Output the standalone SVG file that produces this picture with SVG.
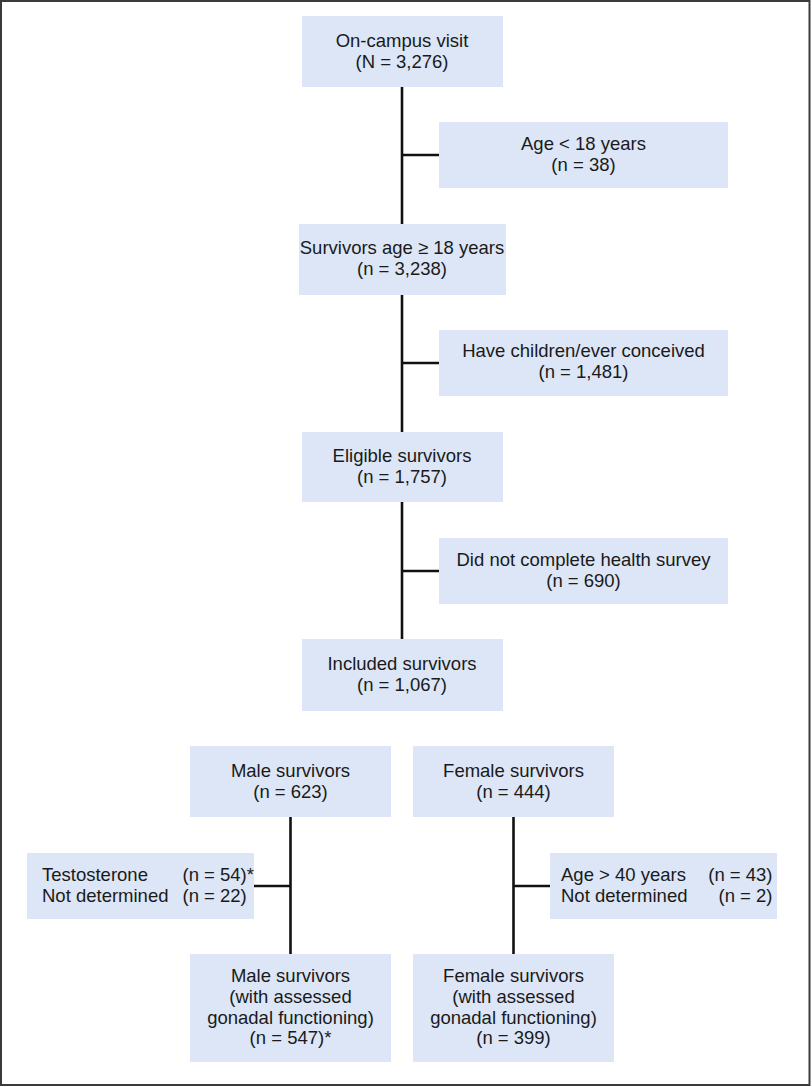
<svg xmlns="http://www.w3.org/2000/svg" width="812" height="1087" viewBox="0 0 812 1087">
<style>
.box{fill:#dce6f6;}
.t{font-family:"Liberation Sans",Arial,sans-serif;font-size:18.5px;fill:#1a1a1a;text-anchor:middle;}
.l{text-anchor:start;}
.r{text-anchor:end;}
.c{stroke:#111;stroke-width:2.6;fill:none;}
</style>
<rect x="1" y="1" width="808.5" height="1084" fill="#fff" stroke="#3a3a3a" stroke-width="2"/>
<g id="connectors">
<line class="c" x1="402" y1="87" x2="402" y2="224"/>
<line class="c" x1="402" y1="155" x2="439" y2="155"/>
<line class="c" x1="402" y1="295" x2="402" y2="432"/>
<line class="c" x1="402" y1="363" x2="439" y2="363"/>
<line class="c" x1="402" y1="502" x2="402" y2="639"/>
<line class="c" x1="402" y1="571" x2="439" y2="571"/>
<line class="c" x1="290.5" y1="817" x2="290.5" y2="954"/>
<line class="c" x1="254" y1="886" x2="290.5" y2="886"/>
<line class="c" x1="513.5" y1="817" x2="513.5" y2="954"/>
<line class="c" x1="513.5" y1="886" x2="550" y2="886"/>
</g>
<g id="n1"><rect class="box" x="302" y="16" width="201" height="71"/>
<text class="t" x="402" y="46.5">On-campus visit</text><text class="t" x="402" y="67.5">(N = 3,276)</text></g>
<g id="n2"><rect class="box" x="439" y="122" width="289" height="66"/>
<text class="t" x="583.5" y="150">Age &lt; 18 years</text><text class="t" x="583.5" y="171">(n = 38)</text></g>
<g id="n3"><rect class="box" x="299" y="224" width="207" height="71"/>
<text class="t" x="402" y="254">Survivors age ≥ 18 years</text><text class="t" x="402" y="275">(n = 3,238)</text></g>
<g id="n4"><rect class="box" x="439" y="330" width="289" height="66"/>
<text class="t" x="583.5" y="357">Have children/ever conceived</text><text class="t" x="583.5" y="378">(n = 1,481)</text></g>
<g id="n5"><rect class="box" x="302" y="432" width="201" height="70"/>
<text class="t" x="402" y="462">Eligible survivors</text><text class="t" x="402" y="483">(n = 1,757)</text></g>
<g id="n6"><rect class="box" x="439" y="538" width="289" height="66"/>
<text class="t" x="583.5" y="566">Did not complete health survey</text><text class="t" x="583.5" y="587">(n = 690)</text></g>
<g id="n7"><rect class="box" x="302" y="639" width="201" height="72"/>
<text class="t" x="402" y="670">Included survivors</text><text class="t" x="402" y="691">(n = 1,067)</text></g>
<g id="n8"><rect class="box" x="190" y="746" width="201" height="71"/>
<text class="t" x="290.5" y="776.5">Male survivors</text><text class="t" x="290.5" y="797.5">(n = 623)</text></g>
<g id="n9"><rect class="box" x="413" y="746" width="201" height="71"/>
<text class="t" x="513.5" y="776.5">Female survivors</text><text class="t" x="513.5" y="797.5">(n = 444)</text></g>
<g id="n10"><rect class="box" x="27" y="853" width="227" height="66"/>
<text class="t l" x="42" y="881">Testosterone</text><text class="t l" x="182.5" y="881">(n = 54)*</text>
<text class="t l" x="42" y="902">Not determined</text><text class="t l" x="182.5" y="902">(n = 22)</text></g>
<g id="n11"><rect class="box" x="550" y="853" width="227" height="66"/>
<text class="t l" x="561" y="881">Age &gt; 40 years</text><text class="t r" x="772.5" y="881">(n = 43)</text>
<text class="t l" x="561" y="902">Not determined</text><text class="t r" x="772.5" y="902">(n = 2)</text></g>
<g id="n12"><rect class="box" x="190" y="954" width="201" height="108"/>
<text class="t" x="290.5" y="982">Male survivors</text><text class="t" x="290.5" y="1003">(with assessed</text>
<text class="t" x="290.5" y="1024">gonadal functioning)</text><text class="t" x="290.5" y="1044">(n = 547)*</text></g>
<g id="n13"><rect class="box" x="413" y="954" width="201" height="108"/>
<text class="t" x="513.5" y="982">Female survivors</text><text class="t" x="513.5" y="1003">(with assessed</text>
<text class="t" x="513.5" y="1024">gonadal functioning)</text><text class="t" x="513.5" y="1044">(n = 399)</text></g>
</svg>
